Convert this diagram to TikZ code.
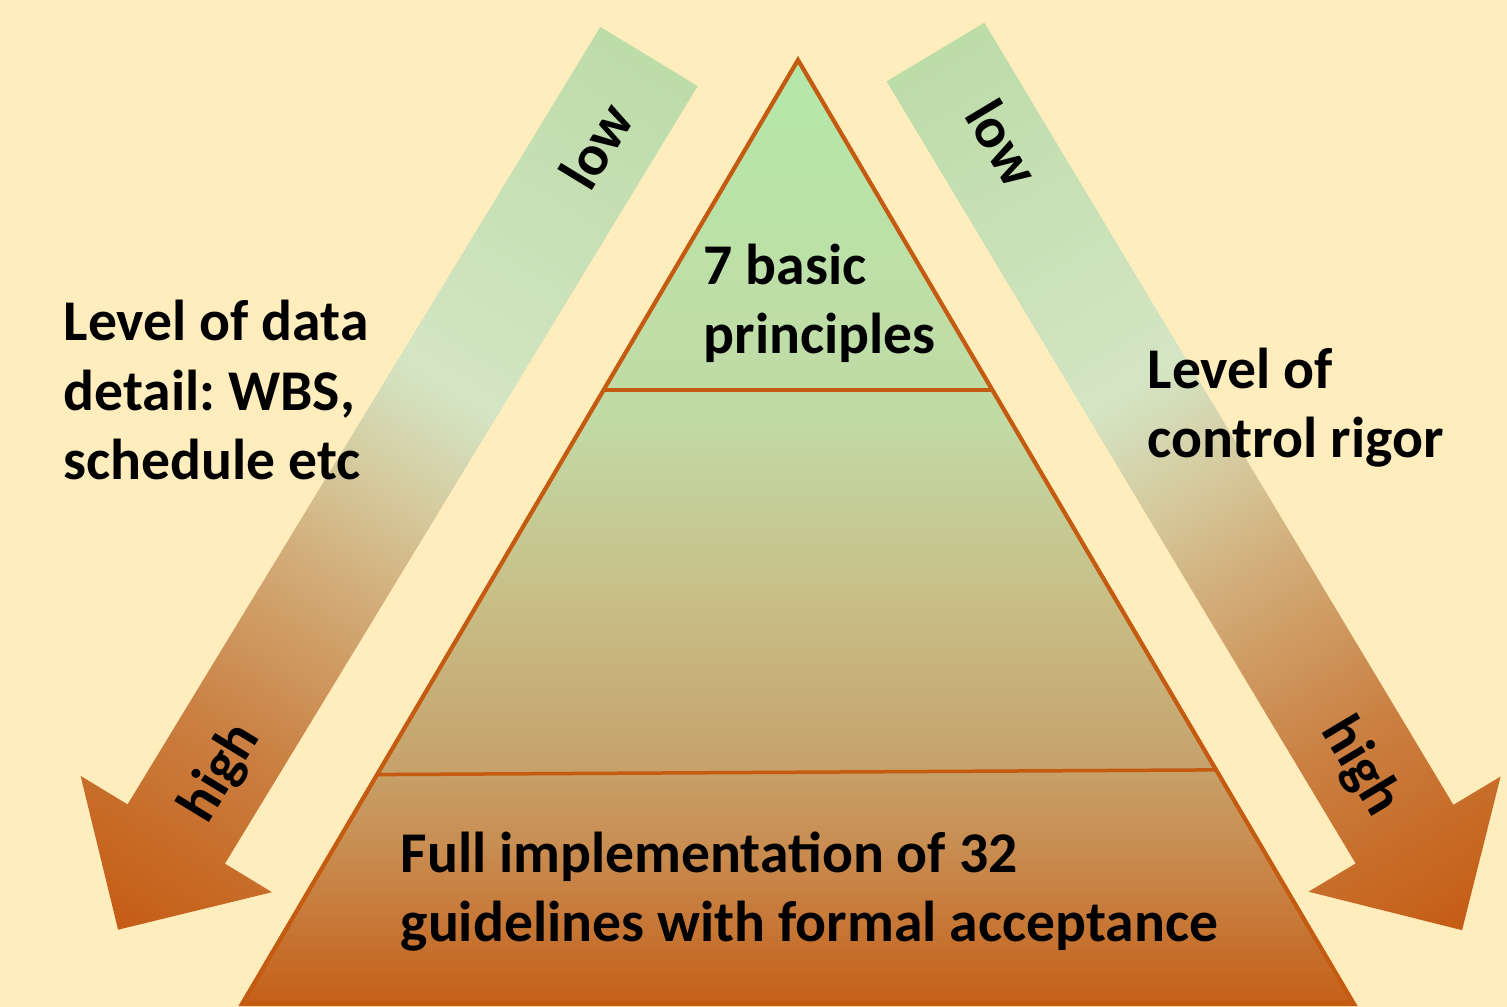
\documentclass[tikz,border=0pt]{standalone}
\usepackage{fontspec}
\setmainfont{Carlito}
\usetikzlibrary{calc}

\definecolor{bg}{RGB}{255,237,189}
\definecolor{edgeorange}{RGB}{197,90,17}

\definecolor{pyrA}{RGB}{197,95,25}
\definecolor{pyrB}{RGB}{198,112,45}
\definecolor{pyrC}{RGB}{200,140,80}
\definecolor{pyrD}{RGB}{199,163,108}
\definecolor{pyrE}{RGB}{200,190,135}
\definecolor{pyrF}{RGB}{194,218,165}
\definecolor{pyrG}{RGB}{180,232,170}
\pgfdeclareverticalshading{pyramid}{100bp}{color(0bp)=(pyrA); color(25bp)=(pyrA);
  color(27.9bp)=(pyrB); color(33.2bp)=(pyrC); color(37.9bp)=(pyrD);
  color(46.4bp)=(pyrE); color(55.9bp)=(pyrF); color(75bp)=(pyrG); color(100bp)=(pyrG)}

\definecolor{arrA}{RGB}{188,220,168}
\definecolor{arrB}{RGB}{212,229,196}
\definecolor{arrC}{RGB}{213,200,155}
\definecolor{arrD}{RGB}{210,172,120}
\definecolor{arrE}{RGB}{202,128,66}
\definecolor{arrF}{RGB}{197,92,20}
\pgfdeclarehorizontalshading{lowhigh}{100bp}{color(0bp)=(arrA); color(25bp)=(arrA);
  color(44bp)=(arrB); color(50bp)=(arrC); color(55bp)=(arrD);
  color(64bp)=(arrE); color(75bp)=(arrF); color(100bp)=(arrF)}

\begin{document}
\begin{tikzpicture}[x=0.1mm,y=-0.1mm]

        \fill[bg] (0,0) rectangle (1507,1007);
        \useasboundingbox (0,0) rectangle (1507,1007);

        % arrows
        \begin{scope}[transform canvas={shift={(649,56.5)},rotate=-121.3}]
          \shade[shading=lowhigh] (0,-57) -- (910,-57) -- (910,-112) -- (1022,0)
            -- (910,112) -- (910,57) -- (0,57) -- cycle;
        \end{scope}
        \begin{scope}[transform canvas={shift={(935.5,52)},rotate=-59.05}]
          \shade[shading=lowhigh] (0,-57) -- (912,-57) -- (912,-112) -- (1024,0)
            -- (912,112) -- (912,57) -- (0,57) -- cycle;
        \end{scope}

        % pyramid
        \coordinate (top) at (798,60);
        \coordinate (bl)  at (242,1004);
        \coordinate (br)  at (1354,1004);
        \shade[shading=pyramid, draw=edgeorange, line width=0.42mm] (top) -- (bl) -- (br) -- cycle;
        \draw[edgeorange, line width=0.35mm] ($(top)!0.3496!(bl)$) -- ($(top)!0.3496!(br)$);
        \draw[edgeorange, line width=0.35mm] ($(top)!0.757!(bl)$) -- ($(top)!0.752!(br)$);

        \begin{scope}[every node/.style={font=\bfseries\frenchspacing\fontsize{16.4}{19.9}\selectfont,
            align=left, anchor=base west, inner sep=0pt}]
          \node (data)  at (63,480)   {Level of data\\detail: WBS,\\schedule etc};
          \node (basic) at (703,354)  {7 basic\\principles};
          \node (full)  at (400,942)  {Full implementation of 32\\guidelines with formal acceptance};
          \node (rigor) at (1147,458) {Level of\\control rigor};
        \end{scope}

        \begin{scope}[every node/.style={font=\bfseries\fontsize{16.4}{19.9}\selectfont, inner sep=0pt}]
          \node[rotate=58.7] (low1)  at (596,146)  {low};
          \node[rotate=58.7] (high1) at (221,773)  {high};
          \node[rotate=-59]  (low2)  at (1003,143) {low};
          \node[rotate=-59]  (high2) at (1360,767) {high};
        \end{scope}

      \end{tikzpicture}
\end{document}
